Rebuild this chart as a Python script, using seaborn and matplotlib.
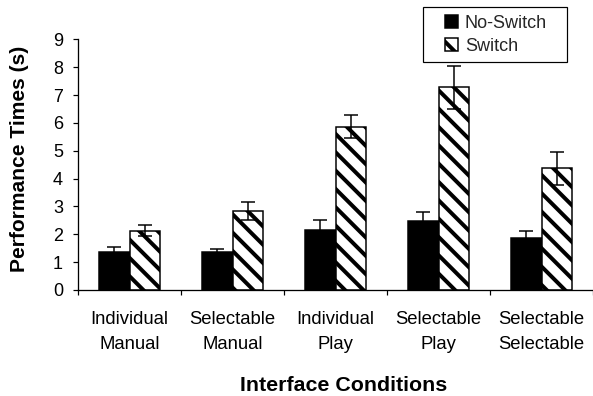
import numpy as np
import pandas as pd
import matplotlib
matplotlib.use("Agg")
import matplotlib.pyplot as plt
from matplotlib.patches import Rectangle
import seaborn as sns

# Mean performance times (s) with error-bar half widths
conditions = ["Individual\nManual", "Selectable\nManual", "Individual\nPlay",
              "Selectable\nPlay", "Selectable\nSelectable"]
series = ["No-Switch", "Switch"]
no_switch = [1.36, 1.37, 2.15, 2.48, 1.88]
no_switch_err = [0.19, 0.10, 0.36, 0.33, 0.25]
switch = [2.13, 2.83, 5.86, 7.27, 4.37]
switch_err = [0.20, 0.33, 0.41, 0.77, 0.60]
y_ticks = list(range(0, 10))

DPI = 110
PT = 72 / DPI          # points per pixel
W, H = 593, 396

sns.set_theme(style="white")
plt.rcParams["font.family"] = ["Liberation Sans", "DejaVu Sans"]
plt.rcParams["hatch.linewidth"] = 4 * PT
plt.rcParams["hatch.color"] = "black"

df = pd.DataFrame({
    "Condition": conditions * 2,
    "Series": [series[0]] * len(conditions) + [series[1]] * len(conditions),
    "Time": no_switch + switch,
})

fig = plt.figure(figsize=(W / DPI, H / DPI), dpi=DPI)
ax = fig.add_axes([78 / W, 1 - 290 / H, 1 - 78 / W, (290 - 39.3) / H])

sns.barplot(data=df, x="Condition", y="Time", hue="Series",
            order=conditions, hue_order=series,
            palette=["black", "white"], saturation=1, width=0.6,
            errorbar=None, edgecolor="black", linewidth=1.5 * PT,
            legend=False, ax=ax)

bar_groups = list(ax.containers)
for patch in bar_groups[1].patches:
    patch.set_hatch("\\\\")

for cont, errs in zip(bar_groups, [no_switch_err, switch_err]):
    xs = [p.get_x() + p.get_width() / 2 for p in cont.patches]
    ys = [p.get_height() for p in cont.patches]
    ax.errorbar(xs, ys, yerr=errs, fmt="none", ecolor="black",
                elinewidth=1.5 * PT, capsize=6.5 * PT, capthick=1.5 * PT,
                zorder=3)

# axes, ticks, spines
ax.set_xlim(-0.5, len(conditions) - 0.5)
ax.set_ylim(0, 9)
ax.set_yticks(y_ticks)
ax.set_xticks(np.arange(-0.5, len(conditions), 1.0), labels=[""] * (len(conditions) + 1))
ax.set_xticks(range(len(conditions)), labels=conditions, minor=True)
for lab in ax.get_xticklabels(minor=True):
    lab.set_linespacing(1.65)

ax.tick_params(axis="y", left=True, direction="out", length=5 * PT,
               width=1.2 * PT, color="black", labelsize=18 * PT,
               pad=10 * PT, labelcolor="black")
ax.tick_params(axis="x", which="major", bottom=True, direction="out",
               length=5 * PT, width=1.2 * PT, color="black")
ax.tick_params(axis="x", which="minor", bottom=True, length=0,
               labelsize=18.5 * PT, pad=21 * PT, labelcolor="black")

for side in ("top", "right"):
    ax.spines[side].set_visible(False)
for side in ("left", "bottom"):
    ax.spines[side].set_color("black")
    ax.spines[side].set_linewidth(1.3 * PT)

ax.set_ylabel("Performance Times (s)", fontsize=21 * PT, fontweight="bold",
              color="black", va="center")
ax.yaxis.set_label_coords((20 - 78) / 515, (290 - 158.5) / 250.7)
ax.set_xlabel("Interface Conditions", fontsize=21.4 * PT, fontweight="bold",
              color="black", va="baseline")
ax.xaxis.set_label_coords((343.5 - 78) / 515, (290 - 391) / 250.7)

# legend with a plain rectangular box
fig.add_artist(Rectangle((423 / W, 1 - 62 / H), 144 / W, 55 / H,
                         transform=fig.transFigure, facecolor="white",
                         edgecolor="black", linewidth=1.2 * PT, zorder=1))
handles = [cont.patches[0] for cont in bar_groups]
fig.legend(handles, series, loc="upper left",
           bbox_to_anchor=(445 / W, 1 - 14.5 / H),
           frameon=False, borderpad=0, borderaxespad=0,
           handlelength=0.7, handleheight=0.7, handletextpad=0.4,
           labelspacing=0.35, fontsize=18 * PT).set_zorder(2)

fig.savefig("out.png", dpi=DPI)
